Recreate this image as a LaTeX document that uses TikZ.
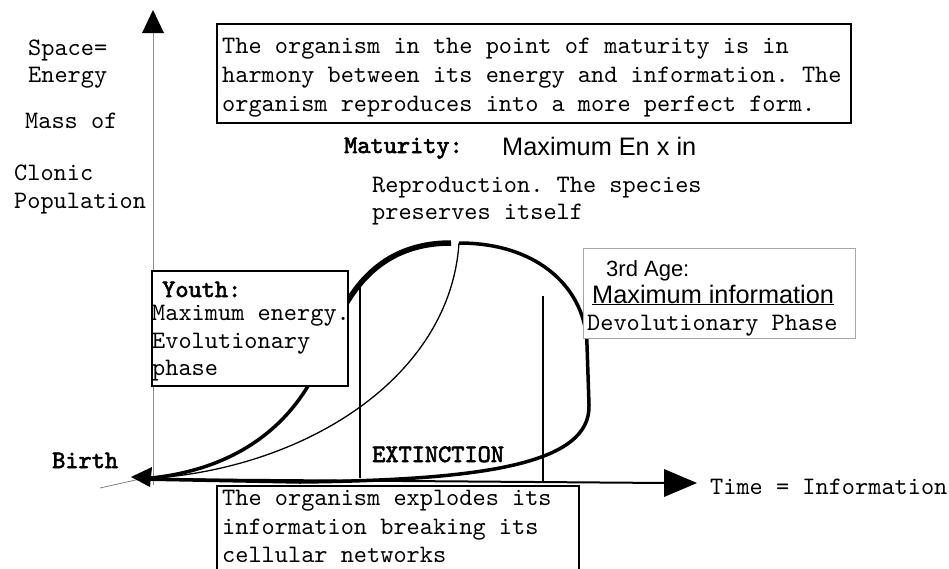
\documentclass[tikz,border=0pt]{standalone}
\usepackage{fontspec}
\setsansfont{Liberation Sans}
\setmonofont{lmmono10-regular.otf}[AutoFakeBold=2.5]
\begin{document}
\begin{tikzpicture}[x=1pt,y=-1pt,
  mono/.style={font=\ttfamily\fontsize{25.1}{28}\selectfont, inner sep=0pt, anchor=base west},
  monob/.style={font=\ttfamily\bfseries\fontsize{25.1}{28}\selectfont, inner sep=0pt, anchor=base west},
  sans/.style={font=\sffamily\fontsize{25.3}{28}\selectfont, inner sep=0pt, anchor=base west},
  sanss/.style={font=\sffamily\fontsize{22}{26}\selectfont, inner sep=0pt, anchor=base west},
  box/.style={draw, line width=1.6pt, fill=white, inner sep=0pt, anchor=north west},
  graybox/.style={draw=black!35, line width=1pt, fill=white, inner sep=0pt, anchor=north west},
  thickc/.style={line width=5.5pt},
  medc/.style={line width=3.5pt},
  thinc/.style={line width=1.3pt}]
\useasboundingbox (0,0) rectangle (949,568);
% key points
\coordinate (birth) at (140,479);
\coordinate (ytop) at (153,10);
\coordinate (ybot) at (153,485);
\coordinate (xend) at (697,483);
\coordinate (peakL) at (451,243);
\coordinate (peakR) at (459,243);
\coordinate (v1t) at (360,282); \coordinate (v1b) at (360,478);
\coordinate (v2t) at (543,296); \coordinate (v2b) at (543,483);
% axes
\draw[black!45, line width=1pt] (ybot) -- (153,30);
\fill (ytop) -- (142,33) -- (164,33) -- cycle;
\draw[line width=2pt] (birth) -- (667,483);
\fill (xend) -- (664,469) -- (664,497) -- cycle;
% vertical lines
\draw[line width=1.8pt] (v1t) -- (v1b);
\draw[line width=1.8pt] (v2t) -- (v2b);
% thin curve
\draw[thinc] (peakR) .. controls (450,380) and (300,472) .. (birth);
\draw[black!50, line width=0.8pt] (birth) -- (100,488);
% youth curve (thick)
\draw[medc] (birth) .. controls (240,472) and (300,420) .. (325,350);
\draw[thickc] (325,352) .. controls (345,290) and (380,243) .. (peakL);
% right / lower curve
\draw[medc] (peakR) .. controls (540,243) and (586,290) .. (587,345)
  -- (589,405) .. controls (591,465) and (480,480) .. (300,482) -- (birth);
% birth arrowhead
\fill (131,477) -- (152,467) -- (150,487) -- cycle;
% y-axis labels
\node[mono] (l1) at (28,55) {Space=};
\node[mono] (l2) at (28,82) {Energy};
\node[mono] (l3) at (25,128) {Mass of};
\node[mono] (l4) at (14,180) {Clonic};
\node[mono] (l5) at (14,208) {Population};
% top box
\node[box, minimum width=634pt, minimum height=99pt] (topbox) at (216,23) {};
\node[mono] (t1) at (222,53) {The organism in the point of maturity is in};
\node[mono] (t2) at (222,82) {harmony between its energy and information. The};
\node[mono] (t3) at (222,111) {organism reproduces into a more perfect form.};
% maturity
\node[monob] (mat) at (344,153) {Maturity:};
\node[sans] (matx) at (502,155) {Maximum En x in};
\node[mono] (rep1) at (372,192) {Reproduction. The species};
\node[mono] (rep2) at (372,219) {preserves itself};
% youth box
\node[box, minimum width=196pt, minimum height=115pt] (youthbox) at (151,270) {};
\node[monob] (y1) at (162,297) {Youth:};
\node[mono] (y2) at (152,320) {Maximum energy.};
\node[mono] (y3) at (152,348) {Evolutionary};
\node[mono] (y4) at (152,375) {phase};
% 3rd age box
\node[graybox, minimum width=272pt, minimum height=90pt] (agebox) at (583,248) {};
\node[sanss] (a1) at (606,276) {3rd Age:};
\node[sans] (a2) at (592,303) {\underline{Maximum information}};
\node[mono] (a3) at (587,330) {Devolutionary Phase};
% labels on axis
\node[monob] (birthl) at (52,468) {Birth};
\node[monob] (ext) at (372,462) {EXTINCTION};
\node[mono] (timel) at (710,494) {Time = Information};
% bottom box
\node[box, minimum width=362pt, minimum height=100pt] (botbox) at (216,485) {};
\node[mono] (b1) at (222,505) {The organism explodes its};
\node[mono] (b2) at (222,534) {information breaking its};
\node[mono] (b3) at (222,562) {cellular networks};
\end{tikzpicture}
\end{document}
